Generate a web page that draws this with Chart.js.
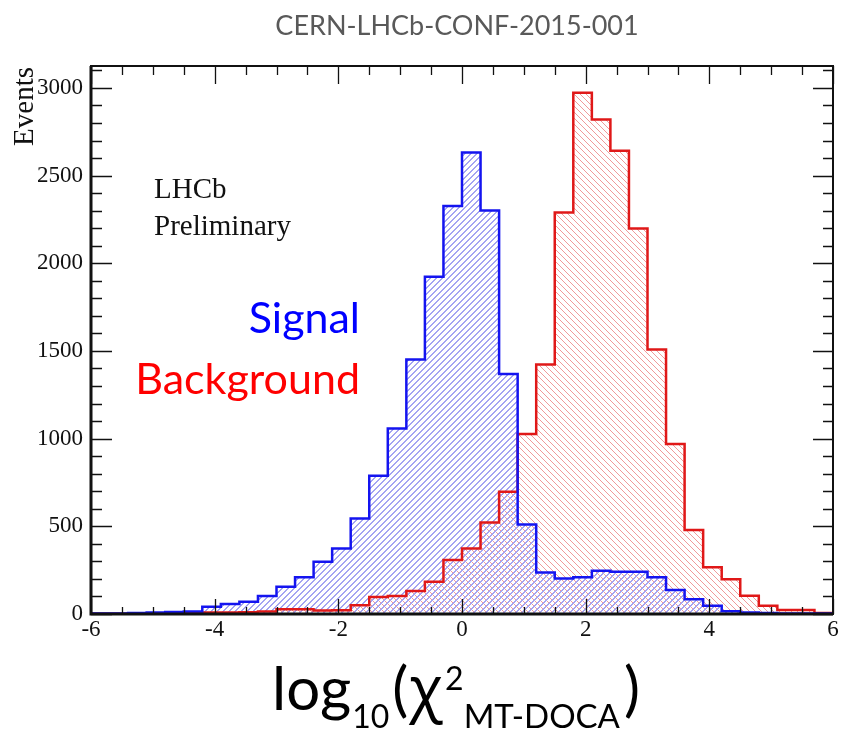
<!DOCTYPE html>
<html>
<head>
<meta charset="utf-8">
<script src="https://cdn.jsdelivr.net/npm/chart.js@4.4.1/dist/chart.umd.min.js"></script>
<style>
  html, body { margin: 0; padding: 0; background: #fff; }
</style>
</head>
<body>
<canvas id="chart" width="841" height="738"></canvas>
<script>
// histogram binning: 40 bins of 0.3 from -6 to 6
const X_MIN = -6;
const X_MAX = 6;
const BIN_WIDTH = 0.3;
const Y_MAX = 3125;

// events per bin
const signalCounts = [
    3, 3, 5, 8, 12, 14, 42, 57, 70, 103,
    156, 209, 298, 374, 545, 789, 1058, 1452, 1923, 2327,
    2632, 2301, 1368, 511, 236, 203, 209, 247, 241, 241,
    209, 137, 84, 47, 15, 8, 5, 3, 3, 3
];
const backgroundCounts = [
    1, 1, 2, 3, 5, 6, 8, 8, 10, 14,
    27, 27, 20, 22, 50, 97, 102, 131, 184, 308,
    374, 522, 697, 1026, 1423, 2290, 2973, 2820, 2641, 2198,
    1509, 969, 479, 266, 198, 104, 47, 23, 23, 6
];

const xTickLabels = [-6, -4, -2, 0, 2, 4, 6];
const yTickLabels = [0, 500, 1000, 1500, 2000, 2500, 3000];

// step outline points: left edge of every bin + closing right edge
function stepPoints(counts) {
    const pts = counts.map((c, i) => ({ x: X_MIN + i * BIN_WIDTH, y: c }));
    pts.push({ x: X_MAX, y: counts[counts.length - 1] });
    return pts;
}

const canvas = document.getElementById('chart');
const ctx = canvas.getContext('2d');

// pixel diagonal hatch ("/" when up, "\" otherwise)
// thin "/" lines lose their colour in the capture, so they get 2px steps
function hatch(color, up) {
    const s = 6;
    const c = document.createElement('canvas');
    c.width = s; c.height = s;
    const g = c.getContext('2d');
    g.fillStyle = color;
    for (let i = 0; i < s; i++) {
        if (up) {
            g.fillRect(i, s - 1 - i, 2, 1);
            if (i === s - 1) g.fillRect(0, 0, 1, 1);
        } else {
            g.fillRect(i, i, 1, 1);
        }
    }
    return ctx.createPattern(c, 'repeat');
}

const serif = '"Liberation Serif", "DejaVu Serif", serif';
const sans = 'Lato, "Open Sans", sans-serif';

const framePlugin = {
    id: 'frame',
    afterDatasetsDraw(chart) {
        const { ctx, chartArea: a, scales: { x, y } } = chart;
        ctx.save();
        ctx.strokeStyle = '#111';
        ctx.lineWidth = 1.3;
        ctx.beginPath();
        for (let v = X_MIN; v <= X_MAX + 1e-6; v += 0.5) {
            const px = Math.round(x.getPixelForValue(v)) + 0.5;
            const major = Math.abs(v % 2) < 1e-6;
            ctx.moveTo(px, a.bottom); ctx.lineTo(px, a.bottom - (major ? 15 : 7));
            ctx.moveTo(px, a.top); ctx.lineTo(px, a.top + (major ? 18 : 9));
        }
        for (let v = 0; v <= Y_MAX; v += 100) {
            const py = Math.round(y.getPixelForValue(v)) + 0.5;
            const major = v % 500 === 0;
            ctx.moveTo(a.left, py); ctx.lineTo(a.left + (major ? 21 : 11), py);
            ctx.moveTo(a.right, py); ctx.lineTo(a.right - (major ? 20 : 10), py);
        }
        ctx.stroke();
        // box, heavier on the left and bottom
        ctx.lineWidth = 2;
        ctx.strokeRect(a.left, a.top, a.right - a.left, a.bottom - a.top);
        ctx.lineWidth = 3;
        ctx.beginPath();
        ctx.moveTo(a.left, a.top); ctx.lineTo(a.left, a.bottom); ctx.lineTo(a.right, a.bottom);
        ctx.stroke();
        ctx.restore();
    },
    afterDraw(chart) {
        const ctx = chart.ctx;
        ctx.save();
        ctx.textBaseline = 'alphabetic';

        ctx.fillStyle = '#595959';
        ctx.textAlign = 'center';
        ctx.font = '27px ' + sans;
        ctx.fillText('CERN-LHCb-CONF-2015-001', 457, 35);

        ctx.fillStyle = '#111';
        ctx.font = '29px ' + serif;
        ctx.textAlign = 'left';
        ctx.fillText('LHCb', 154, 198);
        ctx.fillText('Preliminary', 154, 235);

        ctx.save();
        ctx.translate(33, 67);
        ctx.rotate(-Math.PI / 2);
        ctx.textAlign = 'right';
        ctx.font = '29px ' + serif;
        ctx.fillText('Events', 0, 0);
        ctx.restore();

        ctx.textAlign = 'right';
        ctx.font = '43px ' + sans;
        ctx.fillStyle = '#0000ff';
        ctx.fillText('Signal', 360, 333);
        ctx.fillStyle = '#ff0000';
        ctx.fillText('Background', 360, 394);

        // x axis title with sub/superscripts, laid out left to right
        ctx.fillStyle = '#000';
        ctx.textAlign = 'left';
        const parts = [
            ['log', 0, 710, 60, sans],
            ['10', 1, 728, 32, sans],
            ['(', 3, 710, 60, sans],
            ['\u03c7', 1, 710, 62, '"Open Sans", sans-serif'],
            ['2', 2, 690, 32, sans],
            ['MT-DOCA', 0, 728, 33, sans],
            [')', 4, 710, 60, sans]
        ];
        let cx = 272;
        parts.forEach(([t, gap, py, size, fam]) => {
            cx += gap;
            ctx.font = size + 'px ' + fam;
            ctx.fillText(t, cx, py);
            cx += ctx.measureText(t).width;
        });
        ctx.restore();
    }
};

new Chart(ctx, {
    type: 'line',
    data: {
        datasets: [
            {
                label: 'Signal',
                data: stepPoints(signalCounts),
                stepped: 'before',
                borderColor: '#1414f0',
                borderWidth: 2.5,
                backgroundColor: hatch('#a4a4f2', true),
                fill: 'origin',
                pointRadius: 0,
                order: 1
            },
            {
                label: 'Background',
                data: stepPoints(backgroundCounts),
                stepped: 'before',
                borderColor: '#e01818',
                borderWidth: 2.5,
                backgroundColor: hatch('#f09a9a', false),
                fill: 'origin',
                pointRadius: 0,
                order: 2
            }
        ]
    },
    options: {
        responsive: false,
        animation: false,
        layout: { padding: { top: 66, right: 8, left: 0, bottom: 0 } },
        plugins: {
            legend: { display: false },
            tooltip: { enabled: false },
            // all hatching first, outlines on top
            filler: { drawTime: 'beforeDatasetsDraw' }
        },
        scales: {
            x: {
                type: 'linear',
                min: X_MIN,
                max: X_MAX,
                grid: { display: false, drawTicks: false },
                border: { display: false },
                afterBuildTicks: s => { s.ticks = xTickLabels.map(v => ({ value: v })); },
                afterFit: s => { s.height = 124; },
                ticks: {
                    padding: 2,
                    maxRotation: 0,
                    color: '#111',
                    font: { family: serif, size: 23 },
                    callback: v => String(v)
                }
            },
            y: {
                min: 0,
                max: Y_MAX,
                grid: { display: false, drawTicks: false },
                border: { display: false },
                afterBuildTicks: s => { s.ticks = yTickLabels.map(v => ({ value: v })); },
                afterFit: s => { s.width = 91; },
                ticks: {
                    padding: 8,
                    color: '#111',
                    font: { family: serif, size: 23 },
                    callback: v => String(v)
                }
            }
        }
    },
    plugins: [framePlugin]
});
</script>
</body>
</html>
